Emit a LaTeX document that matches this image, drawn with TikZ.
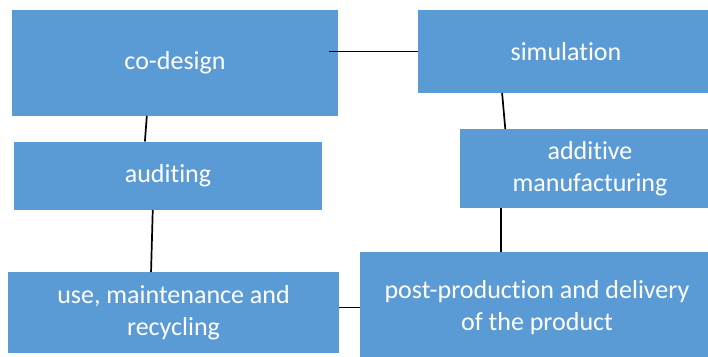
\documentclass[tikz,border=0pt]{standalone}
\usepackage{fontspec}
\setmainfont{Carlito}[Ligatures={NoCommon}]
\usepackage{tikz}
\usetikzlibrary{positioning, calc}
\definecolor{stageblue}{HTML}{5B9BD5}

\begin{document}
\begin{tikzpicture}[x=1pt, y=-1pt,
  stage/.style 2 args={fill=stageblue, text=white, align=center, inner sep=0pt, outer sep=0pt,
    minimum width=#1pt, minimum height=#2pt, font=\fontsize{26}{31.5}\selectfont},
  link/.style={line width=1.7pt, black}]
  % Page frame
  \useasboundingbox (0,0) rectangle (708,356);
  \clip (0,0) rectangle (708,356);

  % Stages
  \node[stage={326}{106}] (codesign) at (175,63) {co-design};
  \node[stage={296}{83}] (simulation) at (566,51.5) {simulation};
  \node[stage={308}{68.5}] (auditing) at (168,175.75) {auditing};
  \node[stage={260}{79}] (additive) at (590,168.5) {additive\\manufacturing};
  \node[stage={331}{81}] (use) at (173.5,312.5) {use, maintenance and\\recycling};
  \node[stage={354}{111}] (post) at (537,307.5) {post-production and delivery\\of the product};

  % Connectors
  \draw[link] (simulation.west) -- ([xshift=-9pt]simulation.west -| codesign.east);
  \draw[link] (codesign.242) -- (auditing.124);
  \draw[link] (auditing.246) -- (use.119);
  \draw[link] (simulation.213) -- (additive.155);
  \draw[link] (additive.204.5) -- (additive.204.5 |- post.north);
  \draw[link] (post.west) -- (post.west -| use.east);
\end{tikzpicture}
\end{document}
